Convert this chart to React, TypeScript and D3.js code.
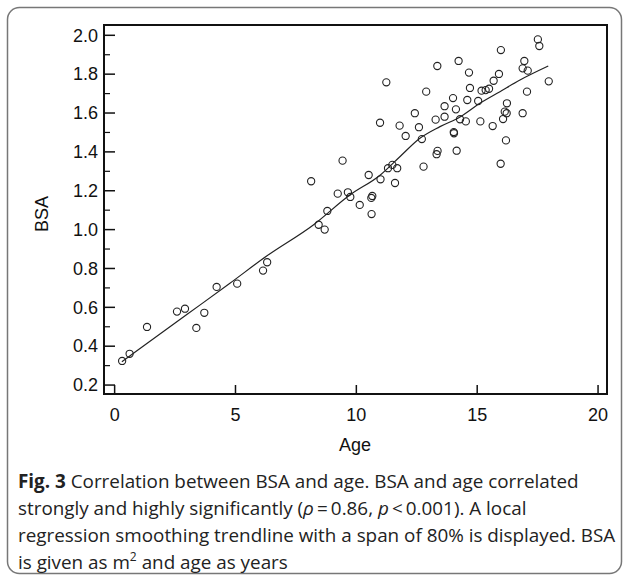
import React from 'react';
import * as d3 from 'd3';

// Age (years) and BSA (m^2)
const ages = [
  0.31, 0.62, 1.34, 2.58, 2.91, 3.38, 3.71, 4.22, 5.07, 6.14,
  6.31, 8.13, 8.44, 8.69, 8.8, 9.23, 9.43, 9.65, 9.75, 10.14,
  10.51, 10.62, 10.66, 10.63, 10.98, 11.0, 11.24, 11.31, 11.49, 11.6,
  11.69, 11.79, 12.04, 12.42, 12.59, 12.71, 12.78, 12.89, 13.28, 13.32,
  13.36, 13.35, 13.65, 13.65, 14.0, 14.03, 14.04, 14.12, 14.15, 14.23,
  14.29, 14.53, 14.59, 14.66, 14.7, 15.04, 15.13, 15.18, 15.35, 15.49,
  15.64, 15.68, 15.9, 15.97, 15.98, 16.07, 16.14, 16.19, 16.22, 16.23,
  16.88, 16.88, 16.95, 17.06, 17.09, 17.51, 17.57, 17.96
];
const bsa = [
  0.324, 0.361, 0.499, 0.578, 0.593, 0.494, 0.572, 0.705, 0.722, 0.789,
  0.832, 1.249, 1.025, 1.0, 1.096, 1.185, 1.355, 1.192, 1.168, 1.127,
  1.281, 1.163, 1.173, 1.08, 1.55, 1.259, 1.758, 1.316, 1.333, 1.24,
  1.316, 1.535, 1.482, 1.599, 1.527, 1.466, 1.324, 1.71, 1.566, 1.388,
  1.405, 1.842, 1.635, 1.581, 1.677, 1.502, 1.496, 1.619, 1.406, 1.868,
  1.568, 1.557, 1.667, 1.808, 1.729, 1.662, 1.557, 1.715, 1.718, 1.725,
  1.533, 1.766, 1.801, 1.339, 1.924, 1.569, 1.607, 1.459, 1.599, 1.65,
  1.599, 1.83, 1.868, 1.71, 1.818, 1.979, 1.945, 1.763
];

// loess trendline
const trendAge = [0.3, 3.0, 4.77, 6.29, 8.22, 9.73, 10.98, 11.8, 12.63, 13.46, 14.29, 15.11, 15.94, 16.77, 17.94];
const trendBsa = [0.32, 0.564, 0.724, 0.864, 1.024, 1.178, 1.28, 1.375, 1.47, 1.53, 1.58, 1.65, 1.71, 1.77, 1.842];

const xTicks = [0, 5, 10, 15, 20];
const yTicks = [0.2, 0.4, 0.6, 0.8, 1.0, 1.2, 1.4, 1.6, 1.8, 2.0];
const yMinorTicks = [0.3, 0.5, 0.7, 0.9, 1.1, 1.3, 1.5, 1.7, 1.9];

const captionLines = [
  'Correlation between BSA and age. BSA and age correlated',
  'strongly and highly significantly (',
  'regression smoothing trendline with a span of 80% is displayed. BSA',
  'is given as m',
];

export default function App() {
  const left = 104, right = 607, top = 25, bottom = 394;
  const x = d3.scaleLinear().domain([-0.44, 20.37]).range([left, right]);
  const y = d3.scaleLinear().domain([0.154, 2.053]).range([bottom, top]);

  const points = ages.map((a, i) => ({ a, b: bsa[i] }));
  const trend = trendAge.map((a, i) => [a, trendBsa[i]] as [number, number]);
  const line = d3.line<[number, number]>().x(d => x(d[0])).y(d => y(d[1])).curve(d3.curveMonotoneX);

  const axisFont = '"Liberation Sans", Arial, sans-serif';
  const capFont = '"Open Sans", sans-serif';
  const capSize = 18.85;

  return (
    <svg width={627} height={580} style={{ position: 'absolute', left: 0, top: 0 }}>
      <rect x={0} y={0} width={627} height={580} fill="#fff" />
      <rect x={7.5} y={7.5} width={614} height={566} rx={12} fill="none" stroke="#777" strokeWidth={1.5} />

      {/* trendline */}
      <path d={line(trend) || ''} fill="none" stroke="#222" strokeWidth={1.2} />

      {/* points */}
      {points.map((p, i) => (
        <circle key={i} cx={x(p.a)} cy={y(p.b)} r={3.6} fill="none" stroke="#222" strokeWidth={1.1} />
      ))}

      {/* frame */}
      <rect x={left} y={top} width={right - left} height={bottom - top} fill="none" stroke="#111" strokeWidth={2} />

      {/* y axis ticks, inward */}
      {yTicks.map(t => (
        <g key={'y' + t}>
          <line x1={left} x2={left + 11} y1={y(t)} y2={y(t)} stroke="#111" strokeWidth={1.5} />
          <text x={98} y={y(t)} dy="0.35em" textAnchor="end" fontFamily={axisFont} fontSize={18} fill="#111">
            {d3.format('.1f')(t)}
          </text>
        </g>
      ))}
      {yMinorTicks.map(t => (
        <line key={'ym' + t} x1={left} x2={left + 6} y1={y(t)} y2={y(t)} stroke="#111" strokeWidth={1.2} />
      ))}

      {/* x axis ticks, inward */}
      {xTicks.map(t => (
        <g key={'x' + t}>
          <line x1={x(t)} x2={x(t)} y1={bottom} y2={bottom - 9} stroke="#111" strokeWidth={1.5} />
          <text x={x(t)} y={421} textAnchor="middle" fontFamily={axisFont} fontSize={18} fill="#111">
            {t}
          </text>
        </g>
      ))}

      <text x={355} y={451} textAnchor="middle" fontFamily={axisFont} fontSize={18} fill="#111">Age</text>
      <text transform="translate(48,214) rotate(-90)" textAnchor="middle" fontFamily={axisFont} fontSize={18} fill="#111">BSA</text>

      {/* caption */}
      <g fontFamily={capFont} fontSize={capSize} fill="#222">
        <text x={18} y={488}>
          <tspan fontWeight="bold">Fig. 3</tspan>
          <tspan> {captionLines[0]}</tspan>
        </text>
        <text x={18} y={515}>
          <tspan>{captionLines[1]}</tspan>
          <tspan fontStyle="italic">ρ</tspan>
          <tspan>{'\u2009=\u20090.86, '}</tspan>
          <tspan fontStyle="italic">p</tspan>
          <tspan>{'\u2009<\u20090.001). A local'}</tspan>
        </text>
        <text x={18} y={542}>{captionLines[2]}</text>
        <text x={18} y={569}>
          <tspan>{captionLines[3]}</tspan>
          <tspan fontSize={12} dy={-8}>2</tspan>
          <tspan dy={8}> and age as years</tspan>
        </text>
      </g>
    </svg>
  );
}
